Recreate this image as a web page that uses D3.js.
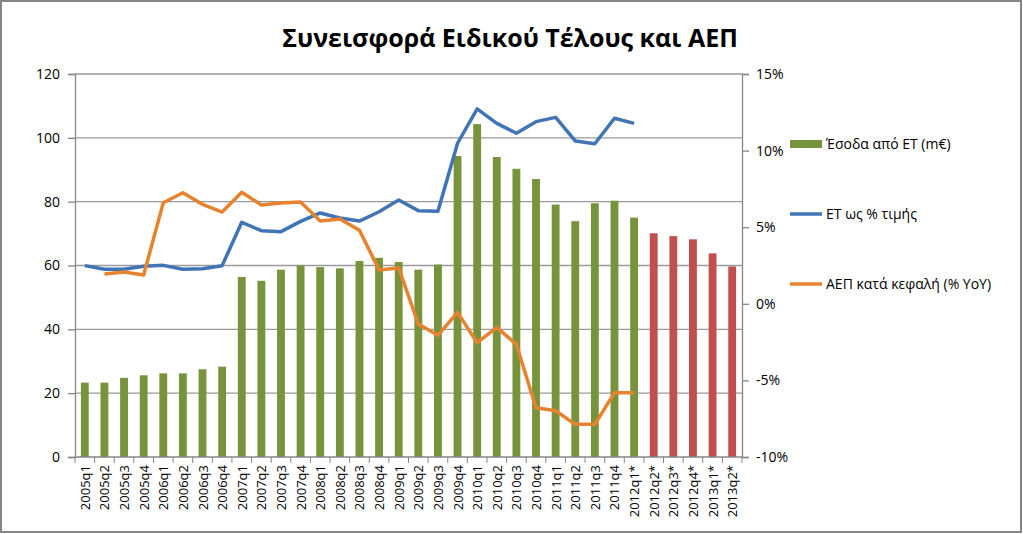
<!DOCTYPE html>
<html>
<head>
<meta charset="utf-8">
<script src="https://cdn.jsdelivr.net/npm/d3@7"></script>
<style>
  html, body { margin: 0; padding: 0; background: #fff; }
  text { font-family: "Open Sans", "Noto Sans", sans-serif; fill: #000; }
</style>
</head>
<body>
<div id="chart"></div>
<script>
// quarters on the category axis (* = forecast)
var quarters = ["2005q1","2005q2","2005q3","2005q4","2006q1","2006q2","2006q3","2006q4",
  "2007q1","2007q2","2007q3","2007q4","2008q1","2008q2","2008q3","2008q4",
  "2009q1","2009q2","2009q3","2009q4","2010q1","2010q2","2010q3","2010q4",
  "2011q1","2011q2","2011q3","2011q4","2012q1*","2012q2*","2012q3*","2012q4*",
  "2013q1*","2013q2*"];

// revenue from the special tax, m€ (left axis)
var revenue = [23.3, 23.3, 24.8, 25.6, 26.2, 26.2, 27.5, 28.3,
  56.4, 55.2, 58.7, 60.0, 59.5, 59.1, 61.4, 62.4,
  61.1, 58.7, 60.3, 94.3, 104.3, 94.0, 90.3, 87.1,
  79.1, 73.9, 79.5, 80.3, 75.0, 70.1, 69.2, 68.2,
  63.8, 59.7];
// first forecast quarter drawn in red
var forecastFrom = 29;

// special tax as % of price (right axis, %)
var taxShare = [2.49, 2.25, 2.25, 2.45, 2.51, 2.25, 2.29, 2.49,
  5.32, 4.77, 4.71, 5.38, 5.93, 5.60, 5.40, 6.01,
  6.78, 6.08, 6.04, 10.48, 12.72, 11.78, 11.13, 11.89,
  12.17, 10.63, 10.45, 12.11, 11.78, null, null, null,
  null, null];

// GDP per capita, % YoY (right axis, %)
var gdp = [null, 1.95, 2.08, 1.88, 6.60, 7.25, 6.49, 5.99,
  7.28, 6.45, 6.58, 6.64, 5.40, 5.54, 4.80, 2.21,
  2.34, -1.32, -2.06, -0.56, -2.54, -1.54, -2.65, -6.78,
  -6.98, -7.87, -7.87, -5.80, -5.80, null, null, null,
  null, null];

var leftTicks = [0, 20, 40, 60, 80, 100, 120];
var rightTicks = [-10, -5, 0, 5, 10, 15];

var W = 1023, H = 534;
var margin = {top: 74, right: 281, bottom: 77, left: 75};
var width = W - margin.left - margin.right,
    height = H - margin.top - margin.bottom;

var svg = d3.select("#chart").append("svg")
    .attr("width", W)
    .attr("height", H);

// outer frame
svg.append("rect")
    .attr("x", 1).attr("y", 1)
    .attr("width", W - 3).attr("height", H - 3)
    .attr("fill", "#fff")
    .attr("stroke", "#868686")
    .attr("stroke-width", 2);

// title
svg.append("text")
    .attr("x", 510)
    .attr("y", 47)
    .attr("text-anchor", "middle")
    .style("font-size", "25px")
    .style("font-weight", "bold")
    .text("Συνεισφορά Ειδικού Τέλους και ΑΕΠ");

var g = svg.append("g")
    .attr("transform", "translate(" + margin.left + "," + margin.top + ")");

var x = d3.scaleBand()
    .domain(quarters)
    .range([0, width])
    .paddingInner(0.6)
    .paddingOuter(0.3);

var y = d3.scaleLinear().domain([0, 120]).range([height, 0]);
var y2 = d3.scaleLinear().domain([-10, 15]).range([height, 0]);

// gridlines
g.selectAll(".grid")
  .data(leftTicks.slice(1))
  .enter().append("line")
    .attr("x1", 0).attr("x2", width)
    .attr("y1", function(d) { return y(d); })
    .attr("y2", function(d) { return y(d); })
    .attr("stroke", "#9a9a9a")
    .attr("stroke-width", 1.3);

// bars
g.selectAll(".bar")
  .data(revenue)
  .enter().append("rect")
    .attr("x", function(d, i) { return x(quarters[i]); })
    .attr("width", x.bandwidth())
    .attr("y", function(d) { return y(d); })
    .attr("height", function(d) { return height - y(d); })
    .attr("fill", function(d, i) { return i >= forecastFrom ? "#C0504D" : "#77933C"; });

// lines
var line = d3.line()
    .defined(function(d) { return d != null; })
    .x(function(d, i) { return x(quarters[i]) + x.bandwidth() / 2; })
    .y(function(d) { return y2(d); });

g.append("path")
    .datum(taxShare)
    .attr("d", line)
    .attr("fill", "none")
    .attr("stroke", "#4174B5")
    .attr("stroke-width", 3.5)
    .attr("stroke-linejoin", "round");

g.append("path")
    .datum(gdp)
    .attr("d", line)
    .attr("fill", "none")
    .attr("stroke", "#E7832F")
    .attr("stroke-width", 3.5)
    .attr("stroke-linejoin", "round");

// left axis
var leftAxis = g.append("g")
    .call(d3.axisLeft(y).tickValues(leftTicks).tickSize(7).tickPadding(8));
leftAxis.selectAll("text").style("font-size", "14px");

// right axis
var rightAxis = g.append("g")
    .attr("transform", "translate(" + width + ",0)")
    .call(d3.axisRight(y2).tickValues(rightTicks).tickSize(7).tickPadding(7)
      .tickFormat(function(d) { return d + "%"; }));
rightAxis.selectAll("text").style("font-size", "14px");

// bottom category axis with ticks between categories
var bottom = g.append("g")
    .attr("transform", "translate(0," + height + ")");
bottom.append("line")
    .attr("x1", 0).attr("x2", width)
    .attr("stroke", "#868686").attr("stroke-width", 1.3);
bottom.selectAll(".tk")
  .data(d3.range(quarters.length + 1))
  .enter().append("line")
    .attr("x1", function(i) { return i * width / quarters.length; })
    .attr("x2", function(i) { return i * width / quarters.length; })
    .attr("y1", 0).attr("y2", 6)
    .attr("stroke", "#868686");
bottom.selectAll(".lbl")
  .data(quarters)
  .enter().append("text")
    .attr("transform", function(d) {
      return "translate(" + (x(d) + x.bandwidth() / 2 + 5) + ",8) rotate(-90)";
    })
    .attr("text-anchor", "end")
    .style("font-size", "13px")
    .text(function(d) { return d; });

[leftAxis, rightAxis].forEach(function(a) {
  a.selectAll(".domain, .tick line").attr("stroke", "#868686").attr("stroke-width", 1.3);
});

// legend
var legend = [
  {label: "Έσοδα από ΕΤ (m€)", color: "#77933C", type: "rect", y: 144},
  {label: "ΕΤ ως % τιμής", color: "#4174B5", type: "line", y: 214},
  {label: "ΑΕΠ κατά κεφαλή (% YoY)", color: "#E7832F", type: "line", y: 284}
];
var lg = svg.append("g").selectAll("g").data(legend).enter().append("g");
lg.each(function(d) {
  var s = d3.select(this);
  if (d.type === "rect") {
    s.append("rect").attr("x", 790).attr("y", d.y - 4).attr("width", 32).attr("height", 8)
      .attr("fill", d.color);
  } else {
    s.append("line").attr("x1", 790).attr("x2", 822).attr("y1", d.y).attr("y2", d.y)
      .attr("stroke", d.color).attr("stroke-width", 3.5);
  }
  s.append("text").attr("x", 826).attr("y", d.y + 5)
    .style("font-size", "14px").text(d.label);
});
</script>
</body>
</html>
